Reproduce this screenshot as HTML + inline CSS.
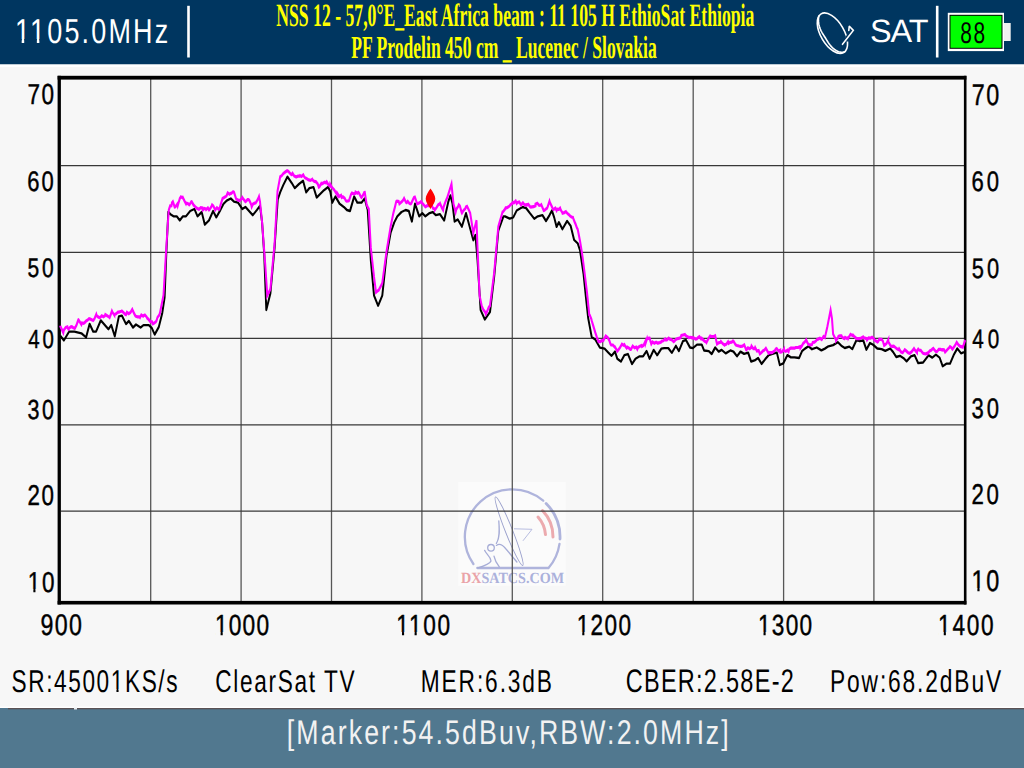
<!DOCTYPE html>
<html><head><meta charset="utf-8"><title>Spectrum</title>
<style>
html,body{margin:0;padding:0;width:1024px;height:768px;overflow:hidden;background:#f7f7f7;}
svg{display:block;}
.s{font-family:"Liberation Sans",sans-serif;}
.f{font-family:"Liberation Serif",serif;font-weight:bold;}
</style></head><body>
<svg width="1024" height="768" viewBox="0 0 1024 768" text-rendering="geometricPrecision">
<rect x="0" y="0" width="1024" height="768" fill="#f7f7f7"/>
<!-- header -->
<rect x="0" y="0" width="1024" height="64.5" fill="#003660"/>
<rect x="0" y="64.5" width="1024" height="2.5" fill="#ffffff"/>
<rect x="187.2" y="5.8" width="2.6" height="51.7" fill="#ffffff"/>
<text class="f" x="276.3" y="25.9" font-size="32.4" fill="#ffff00" textLength="478" lengthAdjust="spacingAndGlyphs">NSS 12 - 57,0°E_East Africa beam : 11 105 H EthioSat Ethiopia</text>
<text class="f" x="351.2" y="57.7" font-size="32" fill="#ffff00" textLength="305.6" lengthAdjust="spacingAndGlyphs">PF Prodelin 450 cm _ Lucenec / Slovakia</text>
<!-- dish icon -->
<g fill="none" stroke="#ffffff" stroke-width="1.6" stroke-linecap="round">
<ellipse cx="832.4" cy="33.2" rx="11.7" ry="22.4" transform="rotate(-30.3 832.4 33.2)"/>
<path d="M818.87 16.05 L818.68 17.24 L818.51 18.42 L818.43 19.65 L818.43 20.91 L818.52 22.22 L818.70 23.55 L818.97 24.91 L819.33 26.28 L819.77 27.64 L820.29 28.99 L820.87 30.31 L821.51 31.60 L822.20 32.83 L822.90 34.00 L823.61 35.12 L824.30 36.20 L824.97 37.25 L825.62 38.29 L826.26 39.35 L826.91 40.43 L827.58 41.53 L828.29 42.64 L829.05 43.74 L829.87 44.83 L830.73 45.89 L831.65 46.89 L832.60 47.83 L833.58 48.70 L834.59 49.48 L835.62 50.18 L836.65 50.78 L837.69 51.28 L838.72 51.68 L839.73 51.97 L840.73 52.15 L841.71 52.23 L842.66 52.21 L843.59 52.09 L844.54 51.95"/>
<path d="M846.6 35.5 L847.6 41.5" stroke="#003660" stroke-width="2.6" stroke-linecap="butt"/>
<path d="M842.5 44.3 L853.3 30.4 L849.4 26.3 M849.2 26.5 L848.8 30.5"/>
</g>
<rect x="935.9" y="5.8" width="2.6" height="51.7" fill="#ffffff"/>
<rect x="947.8" y="12.8" width="56.2" height="38.3" fill="#ffffff"/><rect x="949.5" y="14.8" width="53" height="34" fill="#000"/><rect x="950.5" y="15.8" width="51" height="32" fill="#00ff00"/>
<rect x="1004" y="23" width="6.7" height="18" fill="#f0f0f0"/>
<!-- chart -->
<!-- watermark -->
<rect x="458.2" y="481.9" width="107.5" height="103.8" fill="#fbfbfb"/>
<g id="logo" fill="none" stroke-linecap="round">
<path d="M473.4 564 A47.5 47.5 0 0 1 543.2 500.7" stroke="#afb4dc" stroke-width="2.3"/>
<path d="M546.1 503.4 A47.5 47.5 0 0 1 560 539" stroke="#afb4dc" stroke-width="2.8"/>
<path d="M559.5 543.8 A47.5 47.5 0 0 1 548.5 568 L477.3 568" stroke="#afb4dc" stroke-width="2.3"/>
<path d="M538 517 A30 30 0 0 1 545.5 534.6" stroke="#ecaaae" stroke-width="3"/>
<path d="M542.5 510.5 A38 38 0 0 1 553 537" stroke="#ecaaae" stroke-width="3"/>
<ellipse cx="509.1" cy="531.2" rx="3.6" ry="36.9" transform="rotate(-21.7 509.1 531.2)" stroke="#9aa0cc" stroke-width="0.9"/>
<path d="M514.4 528.8 L532 529.3 L523.2 540.5" stroke="#b0b6de" stroke-width="0.9"/>
<circle cx="491" cy="547.8" r="3.3" stroke="#a6acd6" stroke-width="1.3"/>
<path d="M498.8 521 C 499.5 530, 500 538, 496.4 543.4 M496.4 545.4 C 499 543.5, 502 544, 506 549 L516.9 562 M484.6 550.3 C 486 554, 490.5 556, 491 561 C 490 564, 484 566, 477.8 567.8 M494 556.1 C 495 561, 497 564, 499.3 566.9" stroke="#a6acd6" stroke-width="1.3"/>
</g>
<text x="461" y="582.5" font-family="Liberation Serif,serif" font-weight="bold" font-size="15.5" textLength="103" lengthAdjust="spacingAndGlyphs" fill="#abb1db"><tspan fill="#eaa3a8">DX</tspan>SATCS.COM</text>

<g id="grid">
<line x1="150.7" y1="79" x2="150.7" y2="601" stroke="#575757" stroke-width="1.3"/>
<line x1="241.1" y1="79" x2="241.1" y2="601" stroke="#575757" stroke-width="1.3"/>
<line x1="331.5" y1="79" x2="331.5" y2="601" stroke="#575757" stroke-width="1.3"/>
<line x1="421.9" y1="79" x2="421.9" y2="601" stroke="#575757" stroke-width="1.3"/>
<line x1="512.3" y1="79" x2="512.3" y2="601" stroke="#575757" stroke-width="1.3"/>
<line x1="602.7" y1="79" x2="602.7" y2="601" stroke="#575757" stroke-width="1.3"/>
<line x1="693.2" y1="79" x2="693.2" y2="601" stroke="#575757" stroke-width="1.3"/>
<line x1="783.6" y1="79" x2="783.6" y2="601" stroke="#575757" stroke-width="1.3"/>
<line x1="873.9" y1="79" x2="873.9" y2="601" stroke="#575757" stroke-width="1.3"/>
<line x1="61" y1="165.6" x2="964" y2="165.6" stroke="#383838" stroke-width="1.3"/>
<line x1="61" y1="252.3" x2="964" y2="252.3" stroke="#383838" stroke-width="1.3"/>
<line x1="61" y1="338.4" x2="964" y2="338.4" stroke="#383838" stroke-width="1.3"/>
<line x1="61" y1="424.8" x2="964" y2="424.8" stroke="#383838" stroke-width="1.3"/>
<line x1="61" y1="511.1" x2="964" y2="511.1" stroke="#383838" stroke-width="1.3"/>
</g>
<!-- border -->
<rect x="57.6" y="75.8" width="908.8" height="3.8" fill="#000"/>
<rect x="57.6" y="600.9" width="908.8" height="3.6" fill="#000"/>
<rect x="57.6" y="75.8" width="3.3" height="528.7" fill="#000"/>
<rect x="963.9" y="75.8" width="2.6" height="528.7" fill="#000"/>
<!-- traces -->
<polyline transform="scale(1 1.2)" fill="none" stroke="#000000" stroke-width="1.95" stroke-linejoin="round" points="60.3,279.75 63.9,283.67 69.1,276.33 74.4,276.33 81.4,277.75 86.1,281.17 89.6,269.92 93.2,276.33 96.1,276.33 100.8,267.00 106.0,271.92 108.4,274.33 111.3,270.92 114.8,280.25 118.9,263.58 121.9,263.08 126.0,270.00 128.9,267.50 133.0,272.92 136.0,270.42 140.6,272.92 143.5,270.92 148.8,270.92 151.8,273.33 154.7,278.75 158.8,272.50 162.3,260.67 164.6,248.00 166.3,211.50 168.3,176.67 170.4,178.50 173.5,180.25 176.7,180.25 179.8,183.67 182.9,180.25 186.0,180.25 190.2,175.83 194.4,174.17 197.5,180.25 201.7,176.67 204.8,187.17 209.0,183.67 213.1,175.83 216.3,181.08 220.4,175.00 223.5,169.83 226.7,167.17 230.8,165.42 234.0,168.08 238.1,168.92 242.3,174.17 245.4,172.42 252.7,179.33 256.9,175.00 260.0,171.50 262.1,185.42 264.2,211.50 266.3,258.33 270.4,244.42 274.6,206.25 277.7,166.33 280.2,160.25 283.3,154.17 287.5,147.25 291.7,152.42 294.8,156.75 299.0,153.33 303.1,150.67 306.2,160.25 309.4,156.75 313.5,155.92 316.7,164.58 319.8,162.00 324.0,158.50 328.1,155.92 330.2,159.42 332.3,168.92 335.4,163.75 339.6,169.79 343.8,172.42 346.9,175.00 350.0,175.83 354.2,163.75 357.3,168.92 361.5,168.92 364.6,165.42 367.7,175.00 370.8,216.67 374.0,246.17 378.1,254.83 382.3,246.17 386.5,213.17 390.6,194.08 394.2,185.42 397.3,180.25 401.5,176.67 405.6,175.00 408.8,175.83 411.9,184.58 415.0,169.79 419.2,180.25 422.3,177.58 425.4,180.25 429.6,177.58 432.7,176.67 435.8,179.33 440.0,178.50 444.2,183.67 448.3,168.08 450.4,162.83 452.5,169.79 454.6,184.58 457.7,182.83 461.9,188.92 466.0,177.58 470.2,190.62 473.3,200.17 475.4,195.83 477.5,216.67 480.6,258.33 484.8,266.17 490.0,260.08 494.2,230.58 498.3,192.33 503.5,180.25 505.0,180.25 509.7,182.25 513.2,181.25 516.7,175.42 522.6,172.50 526.1,173.42 529.6,177.33 534.3,182.25 537.8,180.25 542.5,179.33 546.0,184.17 549.5,179.33 551.9,175.42 554.2,181.25 556.6,189.08 558.9,185.17 562.4,191.00 567.1,184.17 570.6,188.08 574.1,199.83 577.7,202.75 580.0,208.58 583.5,228.08 585.9,247.67 588.2,265.25 591.7,280.83 595.2,282.83 599.9,289.67 604.6,290.58 608.1,293.58 611.6,296.50 615.0,293.00 617.3,298.92 620.9,301.33 624.4,296.00 627.9,295.00 632.0,303.33 635.5,298.92 639.6,296.92 643.1,296.92 646.6,292.58 649.6,298.92 653.7,291.58 657.2,296.00 661.3,290.58 664.2,290.08 668.3,290.08 671.8,294.00 675.9,288.17 678.9,292.58 683.0,284.25 685.9,283.25 690.0,289.58 692.9,290.08 697.0,287.17 701.7,287.17 704.1,292.08 708.8,292.58 711.7,295.00 715.2,289.58 718.7,293.00 721.6,291.58 725.7,294.50 730.4,292.08 733.5,293.00 737.0,296.92 740.5,293.00 744.1,294.92 748.2,293.92 751.1,301.25 754.6,300.33 758.1,298.33 761.6,303.25 765.2,299.33 768.7,295.92 773.9,294.42 776.9,293.92 779.8,304.17 783.3,302.75 787.4,295.92 790.9,297.83 794.5,297.83 799.1,298.33 802.1,292.50 805.0,290.50 808.5,288.58 812.0,291.00 816.7,289.58 821.4,292.00 824.9,290.50 828.4,288.58 833.1,287.58 837.8,285.17 841.3,288.08 844.8,290.00 849.3,288.83 852.3,290.92 856.6,283.25 859.6,284.25 863.3,283.75 866.4,291.42 870.0,285.83 873.1,287.33 877.3,290.42 881.6,290.92 885.3,292.42 890.2,290.42 893.2,293.42 896.3,297.50 899.9,296.50 903.6,298.50 906.6,301.08 910.9,297.00 914.6,296.00 918.2,302.58 923.1,302.08 928.6,296.00 932.3,298.00 935.9,295.50 939.6,298.00 942.7,305.17 946.3,303.08 950.0,303.08 953.6,296.00 957.3,290.42 961.0,294.42 964.0,293.42"/>
<polyline transform="scale(1 1.6)" fill="none" stroke="#ff00ff" stroke-width="2" stroke-linejoin="miter" points="60.3,203.56 60.3,203.87 62.1,206.25 63.3,207.94 63.9,206.19 65.7,204.69 67.4,204.31 67.5,204.62 68.5,205.75 69.3,205.06 71.1,204.12 72.1,204.31 72.9,204.69 74.7,205.25 75.0,205.00 76.5,203.19 78.3,199.94 78.5,199.88 80.1,201.50 81.4,202.81 81.9,201.88 83.7,202.06 85.5,201.12 86.1,200.62 87.3,200.25 89.1,199.12 89.6,199.19 90.9,199.62 92.7,200.12 93.2,200.25 94.5,199.19 96.3,196.44 96.7,197.31 98.1,198.06 99.9,198.62 100.2,198.44 101.7,197.31 103.5,198.00 104.9,197.31 105.3,196.56 107.1,197.31 108.9,198.06 109.6,198.44 110.7,196.62 111.9,194.38 112.5,195.19 114.3,196.88 114.3,196.62 116.1,196.12 117.9,195.12 118.9,195.12 119.7,194.81 121.5,194.56 121.9,194.38 123.3,195.25 125.1,196.37 126.0,196.62 126.9,195.19 128.7,196.12 130.5,195.25 132.3,193.31 133.0,194.38 134.1,195.87 135.3,197.31 135.9,197.69 137.7,198.00 139.5,198.00 140.0,198.44 141.3,196.81 143.1,197.62 143.5,197.31 144.9,196.88 146.7,198.12 147.1,198.81 148.5,199.50 150.3,201.06 152.1,201.19 152.9,202.44 153.9,202.06 155.7,201.25 156.4,200.62 157.5,198.37 159.3,196.81 160.0,195.50 161.1,192.06 162.9,186.37 163.5,184.50 164.7,171.75 166.3,154.69 166.5,152.75 168.3,135.56 168.8,131.25 170.1,128.69 171.5,128.62 171.9,126.88 172.9,126.06 173.7,127.56 174.6,129.31 175.5,129.19 177.3,127.56 177.7,128.62 179.1,125.56 179.8,124.06 180.9,123.00 182.7,123.69 182.9,123.44 184.5,125.56 186.0,127.38 186.3,126.94 188.1,127.31 189.2,128.00 189.9,127.56 191.3,126.06 191.7,126.00 193.5,128.06 194.4,128.62 195.3,129.25 197.1,130.25 198.5,130.62 198.9,130.88 200.7,129.75 202.5,129.94 202.7,131.25 204.3,130.31 205.8,130.62 206.1,131.06 207.9,129.94 209.0,131.25 209.7,130.81 211.5,129.00 212.1,128.00 213.3,128.69 215.1,131.06 215.2,131.25 216.9,129.75 218.7,130.75 219.4,130.62 220.5,128.31 222.3,124.50 222.5,124.06 224.1,123.50 225.9,122.75 226.7,122.12 227.7,120.50 229.5,121.44 230.8,120.81 231.3,120.81 233.1,119.81 234.0,120.19 234.9,121.94 236.0,124.06 236.7,124.62 238.5,125.12 239.2,125.37 240.3,125.00 242.1,123.75 242.3,123.44 243.9,124.81 245.4,126.06 245.7,125.94 247.5,124.81 248.5,124.75 249.3,125.12 251.1,127.62 251.7,129.31 252.9,127.62 254.7,126.94 255.8,126.69 256.5,126.06 258.3,123.94 259.0,122.81 260.0,126.06 260.1,126.69 261.9,137.81 262.1,139.06 263.7,152.50 265.2,165.12 265.5,167.94 267.3,184.62 267.3,184.69 269.1,182.38 270.4,180.75 270.9,177.31 272.7,165.06 274.5,152.75 274.6,152.06 276.3,133.00 277.5,119.50 278.1,117.50 279.9,111.44 280.2,110.44 281.7,109.81 283.3,108.44 283.5,108.44 285.3,107.50 287.1,106.69 288.5,107.19 288.9,107.56 290.7,108.81 291.7,109.12 292.5,108.31 294.3,110.06 295.8,110.44 296.1,110.62 297.9,110.12 299.7,110.06 300.0,109.75 301.5,110.31 303.3,109.31 304.2,110.44 305.1,111.19 306.9,111.69 308.3,112.38 308.7,112.44 310.5,112.75 312.3,112.00 312.5,112.38 314.1,113.31 315.6,113.69 315.9,113.50 317.7,114.94 318.8,116.94 319.5,116.62 321.3,114.62 321.9,115.00 323.1,114.44 324.9,113.87 326.0,114.31 326.7,113.62 328.5,115.56 330.2,116.25 330.3,115.25 332.1,117.25 333.9,118.44 334.4,118.87 335.7,120.31 337.5,122.12 337.5,121.00 339.3,122.75 341.1,122.06 341.7,123.44 342.9,123.00 344.7,123.87 345.8,125.37 346.5,125.69 348.3,125.50 349.0,125.37 350.1,123.25 351.0,121.50 351.9,120.62 353.7,121.12 355.2,120.81 355.5,120.00 357.3,120.75 358.3,120.19 359.1,120.75 360.9,123.06 361.5,123.44 362.7,122.31 364.5,120.00 364.6,119.50 366.3,126.37 366.7,128.00 368.1,129.94 368.8,130.62 369.9,144.12 370.8,154.69 371.7,159.81 373.5,170.06 374.0,172.94 375.3,179.25 376.0,182.69 377.1,182.06 378.9,181.19 379.2,180.75 380.7,179.00 382.3,176.81 382.5,175.87 384.3,167.50 386.1,159.19 386.5,157.31 387.9,152.00 389.7,145.12 390.6,141.69 391.5,138.87 393.1,133.87 393.3,133.38 395.1,128.94 396.2,126.06 396.9,125.75 398.7,125.88 399.4,127.38 400.5,126.81 402.3,125.75 403.5,124.75 404.1,124.00 405.9,126.37 406.7,126.69 407.7,125.81 409.5,127.19 410.8,127.38 411.3,127.06 413.1,124.56 414.0,123.44 414.9,123.19 416.7,126.62 417.1,127.38 418.5,127.06 420.3,126.44 421.2,126.06 422.1,126.81 423.9,128.19 425.4,129.31 425.7,129.25 427.5,128.38 429.3,128.50 430.6,128.00 431.1,127.00 432.9,130.12 434.7,130.62 434.8,131.25 436.5,129.81 438.3,127.94 440.0,127.38 440.1,127.25 441.9,129.94 443.1,131.25 443.7,129.19 445.5,126.06 447.3,123.44 447.3,123.44 449.1,119.81 450.9,116.19 451.5,115.00 452.7,122.44 453.5,127.38 454.5,129.81 455.6,132.56 456.3,130.81 458.1,129.12 458.8,128.00 459.9,128.81 461.7,132.94 461.9,133.19 463.5,131.50 465.3,130.31 466.0,129.31 467.1,129.00 468.9,131.31 470.2,133.19 470.7,135.19 472.5,142.38 473.3,145.56 474.3,143.12 476.1,138.75 476.5,137.75 477.5,154.69 477.9,160.38 479.6,184.62 479.7,184.94 481.5,190.50 481.7,191.12 483.3,193.50 485.1,195.06 485.8,196.37 486.9,195.00 488.7,192.12 490.0,191.12 490.5,188.62 492.3,179.75 494.1,170.81 494.2,170.31 495.9,158.44 497.7,145.88 498.3,141.69 499.5,139.06 501.3,135.19 502.5,132.56 503.1,132.31 504.9,130.81 505.6,129.94 506.7,129.88 508.5,129.31 509.7,128.62 510.3,128.00 512.1,127.19 513.2,126.44 513.9,126.81 515.7,125.62 516.7,127.12 517.5,126.56 519.3,126.19 521.1,128.12 521.4,127.87 522.9,126.75 524.7,128.12 526.1,127.87 526.5,128.19 528.3,127.62 530.1,129.25 530.8,129.38 531.9,129.25 533.7,129.19 535.5,128.62 535.5,127.62 537.3,127.06 539.1,128.31 540.9,128.12 541.3,127.87 542.7,130.06 543.7,131.56 544.5,131.44 546.3,130.44 547.2,130.06 548.1,128.38 549.5,125.69 549.9,126.50 551.7,128.94 553.0,130.81 553.5,131.00 555.3,130.06 556.6,131.56 557.1,130.75 558.9,130.81 560.1,130.06 560.7,131.12 562.4,133.00 562.5,133.19 564.3,132.88 565.9,132.25 566.1,132.50 567.9,133.69 569.4,134.50 569.7,134.75 571.5,135.62 573.0,135.94 573.3,136.56 575.1,139.44 575.3,139.62 576.9,142.31 577.7,143.25 578.7,146.44 580.0,150.56 580.5,152.50 582.3,159.38 582.3,159.38 584.1,168.12 584.7,171.06 585.9,177.19 587.0,182.81 587.7,187.06 589.4,197.44 589.5,196.56 591.3,199.31 591.7,200.38 593.1,203.31 594.9,207.06 595.2,207.69 596.7,210.44 598.5,213.50 598.7,213.56 600.3,213.50 602.1,212.75 603.4,212.81 603.9,212.12 605.7,210.00 606.9,210.62 607.5,210.75 609.3,212.75 610.5,215.00 611.1,215.56 612.9,215.62 614.7,216.94 615.0,216.88 616.5,218.56 617.3,219.44 618.3,218.69 620.1,217.12 620.3,216.88 621.9,215.12 623.7,215.81 624.4,215.38 625.5,216.56 626.7,217.56 627.3,216.94 629.1,217.62 630.2,218.31 630.9,218.31 632.7,216.31 633.8,216.88 634.5,217.38 636.3,216.94 637.3,218.31 638.1,217.12 639.9,216.44 641.7,215.94 642.0,216.50 643.5,215.94 645.3,213.44 645.5,214.62 647.1,211.50 647.2,211.75 648.9,211.37 649.6,211.37 650.7,213.75 651.3,215.00 652.5,213.69 654.3,214.50 654.8,214.31 656.1,213.87 657.9,214.50 658.4,214.31 659.7,214.12 661.5,213.62 661.9,213.19 663.3,213.00 665.1,211.88 665.4,212.44 666.9,212.38 668.7,211.31 670.1,212.06 670.5,212.06 672.3,212.62 673.6,213.56 674.1,213.31 675.9,212.12 677.1,211.75 677.7,211.62 679.5,211.31 680.6,211.00 681.3,209.69 683.1,209.38 684.9,209.06 685.3,209.50 686.7,210.12 688.2,210.62 688.5,211.00 690.3,210.81 692.1,211.19 692.3,211.00 693.9,211.31 695.7,211.88 697.0,211.75 697.5,211.25 699.3,210.44 701.1,211.81 701.7,211.37 702.9,212.25 704.7,213.25 706.4,213.94 706.5,214.06 708.3,211.75 710.1,210.06 711.1,210.25 711.9,210.31 713.7,210.31 715.2,209.88 715.5,210.75 717.0,215.00 717.3,214.81 719.1,214.12 720.5,213.94 720.9,213.44 722.7,214.81 724.5,215.62 724.6,215.38 726.3,215.19 728.1,213.62 728.7,214.62 729.9,214.00 731.7,213.81 732.9,213.12 733.5,213.25 735.3,215.25 735.9,215.69 737.1,215.94 738.9,216.25 740.5,216.44 740.7,216.44 742.5,216.31 744.1,215.69 744.3,215.56 746.1,218.50 746.4,218.62 747.9,217.31 749.7,217.94 751.1,217.19 751.5,216.25 753.3,217.88 754.6,217.88 755.1,217.19 756.9,219.44 758.7,219.12 759.9,221.19 760.5,220.87 762.3,219.81 762.8,219.38 764.1,219.00 765.7,217.88 765.9,217.69 767.7,219.75 768.7,220.81 769.5,220.38 771.3,220.44 772.2,220.44 773.1,219.94 774.9,219.12 775.7,218.25 776.7,217.88 778.5,219.38 780.3,218.87 780.4,220.12 782.1,219.88 783.9,218.19 783.9,219.00 785.7,219.62 787.5,218.87 788.6,219.75 789.3,218.19 791.1,217.44 791.5,217.50 792.9,217.56 794.7,217.62 795.6,217.19 796.5,217.19 798.3,217.12 800.1,216.69 800.3,217.50 801.9,216.12 803.2,214.62 803.7,214.38 805.5,213.19 806.2,212.38 807.3,214.06 808.5,215.31 809.1,215.38 810.9,215.50 812.0,215.31 812.7,214.00 814.5,213.81 816.3,212.88 816.7,212.38 818.1,211.94 819.9,211.44 821.4,212.06 821.7,212.19 823.5,210.25 824.9,210.94 825.3,209.88 827.1,204.94 827.3,204.38 828.9,199.25 830.6,193.75 830.7,194.12 832.0,199.25 832.5,203.56 833.1,208.75 834.3,210.38 836.1,212.50 836.1,212.75 837.9,211.06 838.4,210.19 839.7,209.88 841.5,209.88 841.9,210.56 843.3,211.25 844.3,211.69 845.1,210.87 846.9,211.50 848.7,210.75 848.7,210.94 850.5,208.94 852.3,209.62 852.9,209.38 854.1,210.25 855.9,211.25 856.6,211.69 857.7,211.62 859.5,211.62 861.3,211.25 863.1,210.56 863.3,210.94 864.9,211.31 866.7,211.69 867.0,212.44 868.5,211.19 870.3,211.37 870.6,211.31 872.1,210.75 873.9,211.75 874.3,212.44 875.7,213.00 877.5,213.75 878.0,213.56 879.3,212.00 881.1,212.06 881.6,212.06 882.9,213.19 884.1,215.87 884.7,215.62 886.5,214.75 888.3,212.25 888.3,213.56 890.1,215.56 890.8,216.25 891.9,216.50 893.7,216.31 895.0,217.00 895.5,217.25 897.3,218.19 898.7,218.56 899.1,218.00 900.9,219.88 902.4,220.44 902.7,220.44 904.5,218.87 904.8,218.56 906.3,219.38 908.1,220.44 909.7,220.81 909.9,220.75 911.7,219.75 913.5,218.31 914.0,217.81 915.3,219.12 917.0,220.44 917.1,219.19 918.2,218.19 918.9,218.75 920.7,218.94 922.5,220.44 923.1,220.81 924.3,221.00 926.1,221.12 927.9,220.50 928.0,220.81 929.7,219.38 931.5,218.81 932.3,218.19 933.3,217.75 935.1,219.19 935.9,219.69 936.9,219.81 938.7,218.37 940.5,218.37 942.3,218.75 942.7,218.56 944.1,218.62 945.1,220.06 945.9,219.56 947.7,218.25 949.5,217.06 950.0,216.62 951.3,217.19 952.4,218.19 953.1,217.62 954.9,216.06 956.7,213.94 956.7,213.94 958.5,215.56 959.7,216.25 960.3,216.50 962.1,216.81 962.8,217.00 963.9,214.94 965.2,212.44"/>
<!-- marker -->
<path d="M430.5 188.4 C 432.8 191.8, 435.3 195.5, 435.3 198.8 C 435.3 202.1, 432.8 205.5, 430.5 209 C 428.2 205.5, 425.7 202.1, 425.7 198.8 C 425.7 195.5, 428.2 191.8, 430.5 188.4 Z" fill="#ff0000"/>
<!-- y labels -->

<!-- bottom info -->

<!-- bottom bar -->
<rect x="0" y="708" width="1024" height="60" fill="#51788f"/>
<rect x="0" y="706.6" width="1024" height="1.4" fill="#ffffff"/>
<rect x="8" y="708" width="1016" height="1.3" fill="#5a5254"/>
<rect x="74" y="707.5" width="3" height="2" fill="#e8eef2"/>
<text class="s" transform="translate(14.96 42.58) scale(0.78 1)" font-size="34.57" fill="#ffffff" textLength="196.35" lengthAdjust="spacing">1105.0MHz</text>
<text class="s" transform="translate(869.99 41.68) scale(1.0 1)" font-size="32.41" fill="#ffffff" textLength="58.54" lengthAdjust="spacing">SAT</text>
<text class="s" transform="translate(960.27 43.37) scale(0.7 1)" font-size="29.85" fill="#000000" textLength="35.37" lengthAdjust="spacing">88</text>
<text class="s" transform="translate(27.40 104.36) scale(0.78 1)" font-size="28.88" fill="#000" stroke="#000" stroke-width="0.45" textLength="34.01" lengthAdjust="spacing">70</text>
<text class="s" transform="translate(27.31 190.56) scale(0.78 1)" font-size="28.18" fill="#000" stroke="#000" stroke-width="0.45" textLength="34.01" lengthAdjust="spacing">60</text>
<text class="s" transform="translate(27.52 276.60) scale(0.78 1)" font-size="26.93" fill="#000" stroke="#000" stroke-width="0.45" textLength="33.62" lengthAdjust="spacing">50</text>
<text class="s" transform="translate(28.20 348.05) scale(0.78 1)" font-size="26.19" fill="#000" stroke="#000" stroke-width="0.45" textLength="32.87" lengthAdjust="spacing">40</text>
<text class="s" transform="translate(27.60 418.56) scale(0.78 1)" font-size="27.54" fill="#000" stroke="#000" stroke-width="0.45" textLength="33.69" lengthAdjust="spacing">30</text>
<text class="s" transform="translate(27.48 504.68) scale(0.78 1)" font-size="28.64" fill="#000" stroke="#000" stroke-width="0.45" textLength="33.86" lengthAdjust="spacing">20</text>
<text class="s" transform="translate(27.76 591.66) scale(0.78 1)" font-size="28.81" fill="#000" stroke="#000" stroke-width="0.45" textLength="34.32" lengthAdjust="spacing">10</text>
<text class="s" transform="translate(971.79 104.99) scale(0.78 1)" font-size="29.93" fill="#000" stroke="#000" stroke-width="0.45" textLength="35.19" lengthAdjust="spacing">70</text>
<text class="s" transform="translate(971.55 191.47) scale(0.78 1)" font-size="28.31" fill="#000" stroke="#000" stroke-width="0.45" textLength="35.25" lengthAdjust="spacing">60</text>
<text class="s" transform="translate(971.72 277.79) scale(0.78 1)" font-size="28.02" fill="#000" stroke="#000" stroke-width="0.45" textLength="35.26" lengthAdjust="spacing">50</text>
<text class="s" transform="translate(972.31 348.19) scale(0.78 1)" font-size="26.49" fill="#000" stroke="#000" stroke-width="0.45" textLength="34.44" lengthAdjust="spacing">40</text>
<text class="s" transform="translate(971.60 418.38) scale(0.78 1)" font-size="28.24" fill="#000" stroke="#000" stroke-width="0.45" textLength="35.18" lengthAdjust="spacing">30</text>
<text class="s" transform="translate(971.41 504.00) scale(0.78 1)" font-size="28.51" fill="#000" stroke="#000" stroke-width="0.45" textLength="35.31" lengthAdjust="spacing">20</text>
<text class="s" transform="translate(971.56 591.39) scale(0.78 1)" font-size="29.97" fill="#000" stroke="#000" stroke-width="0.45" textLength="35.56" lengthAdjust="spacing">10</text>
<text class="s" transform="translate(40.53 635.33) scale(0.78 1)" font-size="29.74" fill="#000" stroke="#000" stroke-width="0.45" textLength="52.90" lengthAdjust="spacing">900</text>
<text class="s" transform="translate(214.93 634.92) scale(0.78 1)" font-size="29.13" fill="#000" stroke="#000" stroke-width="0.45" textLength="69.41" lengthAdjust="spacing">1000</text>
<text class="s" transform="translate(396.35 634.86) scale(0.78 1)" font-size="28.99" fill="#000" stroke="#000" stroke-width="0.45" textLength="68.94" lengthAdjust="spacing">1100</text>
<text class="s" transform="translate(576.64 634.92) scale(0.78 1)" font-size="28.91" fill="#000" stroke="#000" stroke-width="0.45" textLength="69.75" lengthAdjust="spacing">1200</text>
<text class="s" transform="translate(757.89 635.18) scale(0.78 1)" font-size="29.00" fill="#000" stroke="#000" stroke-width="0.45" textLength="69.50" lengthAdjust="spacing">1300</text>
<text class="s" transform="translate(938.12 634.96) scale(0.78 1)" font-size="29.03" fill="#000" stroke="#000" stroke-width="0.45" textLength="71.19" lengthAdjust="spacing">1400</text>
<text class="s" transform="translate(11.56 692.07) scale(0.72 1)" font-size="31.48" fill="#000" textLength="230.57" lengthAdjust="spacing">SR:45001KS/s</text>
<text class="s" transform="translate(215.29 692.07) scale(0.72 1)" font-size="31.45" fill="#000" textLength="193.61" lengthAdjust="spacing">ClearSat TV</text>
<text class="s" transform="translate(420.79 692.07) scale(0.72 1)" font-size="31.57" fill="#000" textLength="182.27" lengthAdjust="spacing">MER:6.3dB</text>
<text class="s" transform="translate(625.74 692.07) scale(0.72 1)" font-size="32.63" fill="#000" textLength="233.43" lengthAdjust="spacing">CBER:2.58E-2</text>
<text class="s" transform="translate(830.01 692.08) scale(0.72 1)" font-size="31.63" fill="#000" textLength="237.65" lengthAdjust="spacing">Pow:68.2dBuV</text>
<text class="s" transform="translate(286.82 744.23) scale(0.78 1)" font-size="34.22" fill="#f2f2f2" textLength="566.54" lengthAdjust="spacing">[Marker:54.5dBuv,RBW:2.0MHz]</text>
<rect x="16.00" y="39" width="5.68" height="5" fill="#003660"/>
<rect x="24.21" y="39" width="5.79" height="5" fill="#003660"/>
<rect x="31.00" y="39" width="5.84" height="5" fill="#003660"/>
<rect x="39.36" y="39" width="5.64" height="5" fill="#003660"/>
<rect x="28.00" y="589" width="5.35" height="4" fill="#f7f7f7"/>
<rect x="35.46" y="589" width="4.54" height="4" fill="#f7f7f7"/>
<rect x="972.00" y="588" width="5.38" height="4" fill="#f7f7f7"/>
<rect x="979.57" y="588" width="5.43" height="4" fill="#f7f7f7"/>
<rect x="216.00" y="632" width="4.59" height="4" fill="#f7f7f7"/>
<rect x="222.72" y="632" width="5.28" height="4" fill="#f7f7f7"/>
<rect x="397.00" y="632" width="4.98" height="4" fill="#f7f7f7"/>
<rect x="404.10" y="632" width="4.90" height="4" fill="#f7f7f7"/>
<rect x="410.00" y="632" width="4.59" height="4" fill="#f7f7f7"/>
<rect x="416.71" y="632" width="5.29" height="4" fill="#f7f7f7"/>
<rect x="577.00" y="632" width="5.26" height="4" fill="#f7f7f7"/>
<rect x="584.37" y="632" width="4.63" height="4" fill="#f7f7f7"/>
<rect x="758.00" y="632" width="5.52" height="4" fill="#f7f7f7"/>
<rect x="765.64" y="632" width="5.36" height="4" fill="#f7f7f7"/>
<rect x="939.00" y="632" width="4.76" height="4" fill="#f7f7f7"/>
<rect x="945.88" y="632" width="5.12" height="4" fill="#f7f7f7"/>
<rect x="111.00" y="689" width="5.44" height="4" fill="#f7f7f7"/>
<rect x="118.57" y="689" width="4.43" height="4" fill="#f7f7f7"/>
</svg>
</body></html>
